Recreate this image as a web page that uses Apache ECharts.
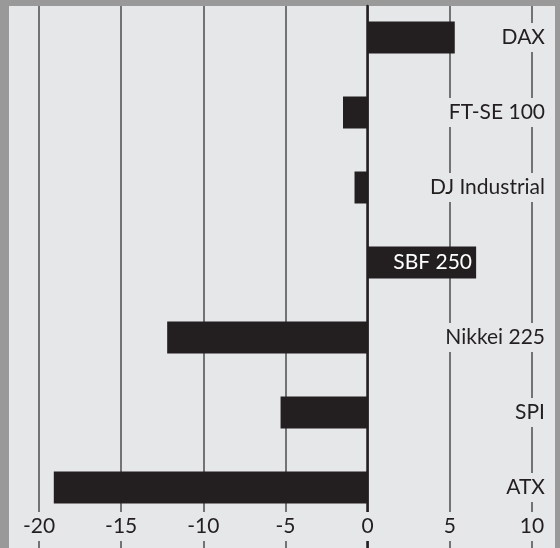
<!DOCTYPE html>
<html>
<head>
<meta charset="utf-8">
<script src="https://cdn.jsdelivr.net/npm/echarts@6/dist/echarts.min.js"></script>
<style>
    html, body {margin: 0; padding: 0; background: #999999;}
    #panel {position: absolute; left: 9px; top: 6px; width: 546px; height: 542px; background: #e6e7e9;}
    #main {position: absolute; left: 0; top: 0; width: 560px; height: 548px;}
</style>
</head>
<body>
<div id="panel"></div>
<div id="main"></div>
<script>
var indices = ['DAX', 'FT-SE 100', 'DJ Industrial', 'SBF 250', 'Nikkei 225', 'SPI', 'ATX'];
var changes = [5.3, -1.5, -0.8, 6.6, -12.2, -5.3, -19.1];
var ticks = [-20, -15, -10, -5, 0, 5, 10];
var labelOnBar = ['SBF 250'];   // label sits inside the bar end, white

function chart() {
    var myChart = echarts.init(document.getElementById('main'));
    var font = 'Lato';
    var ink = '#231f20';
    var bg = '#e6e7e9';
    var option = {
        animation: false,
        grid: [
            // full panel: gridlines + tick labels
            {left: 39, right: 28, top: 6, bottom: 0},
            // bars + category labels
            {left: 39, right: 28, top: -1, bottom: 23}
        ],
        xAxis: [
            {
                gridIndex: 0, type: 'value', position: 'top',
                min: ticks[0], max: ticks[ticks.length - 1], interval: 5,
                axisLine: {show: false}, axisTick: {show: false}, axisLabel: {show: false},
                splitLine: {show: true, lineStyle: {color: '#4d4d4f', width: 1.5}},
                z: 0
            },
            {
                gridIndex: 0, type: 'value', position: 'bottom',
                min: ticks[0], max: ticks[ticks.length - 1], interval: 5,
                axisLine: {show: false}, axisTick: {show: false}, splitLine: {show: false},
                axisLabel: {
                    show: true, inside: true, margin: 7,
                    fontFamily: font, fontSize: 21, color: ink,
                    backgroundColor: bg, padding: [4, 3],
                    showMinLabel: true, showMaxLabel: true
                },
                z: 2
            },
            {
                gridIndex: 1, type: 'value',
                min: ticks[0], max: ticks[ticks.length - 1], interval: 5,
                show: false
            }
        ],
        yAxis: [
            {
                gridIndex: 0, type: 'value', min: 0, max: 1,
                axisLine: {show: true, onZero: true, onZeroAxisIndex: 0, lineStyle: {color: ink, width: 2.5}},
                axisTick: {show: false}, axisLabel: {show: false}, splitLine: {show: false},
                z: 1
            },
            {
                gridIndex: 1, type: 'category', data: indices, inverse: true,
                position: 'right', offset: 23,
                axisLine: {show: false}, axisTick: {show: false}, splitLine: {show: false},
                axisLabel: {
                    inside: true, margin: 8,
                    formatter: function (v) {
                        if (labelOnBar.indexOf(v) >= 0) return '{w|' + v + '}{gap| }';
                        return '{n|' + v + '}';
                    },
                    rich: {
                        n: {fontFamily: font, fontSize: 21, color: ink, backgroundColor: bg, padding: [4, 2]},
                        w: {fontFamily: font, fontSize: 21, color: '#ffffff', padding: [4, 2]},
                        gap: {width: 73, fontSize: 21}
                    }
                },
                z: 3
            }
        ],
        series: [
            {
                type: 'bar',
                xAxisIndex: 2,
                yAxisIndex: 1,
                data: changes,
                barWidth: 32,
                itemStyle: {color: ink},
                z: 2
            }
        ]
    };
    myChart.setOption(option);
}
chart();
</script>
</body>
</html>
